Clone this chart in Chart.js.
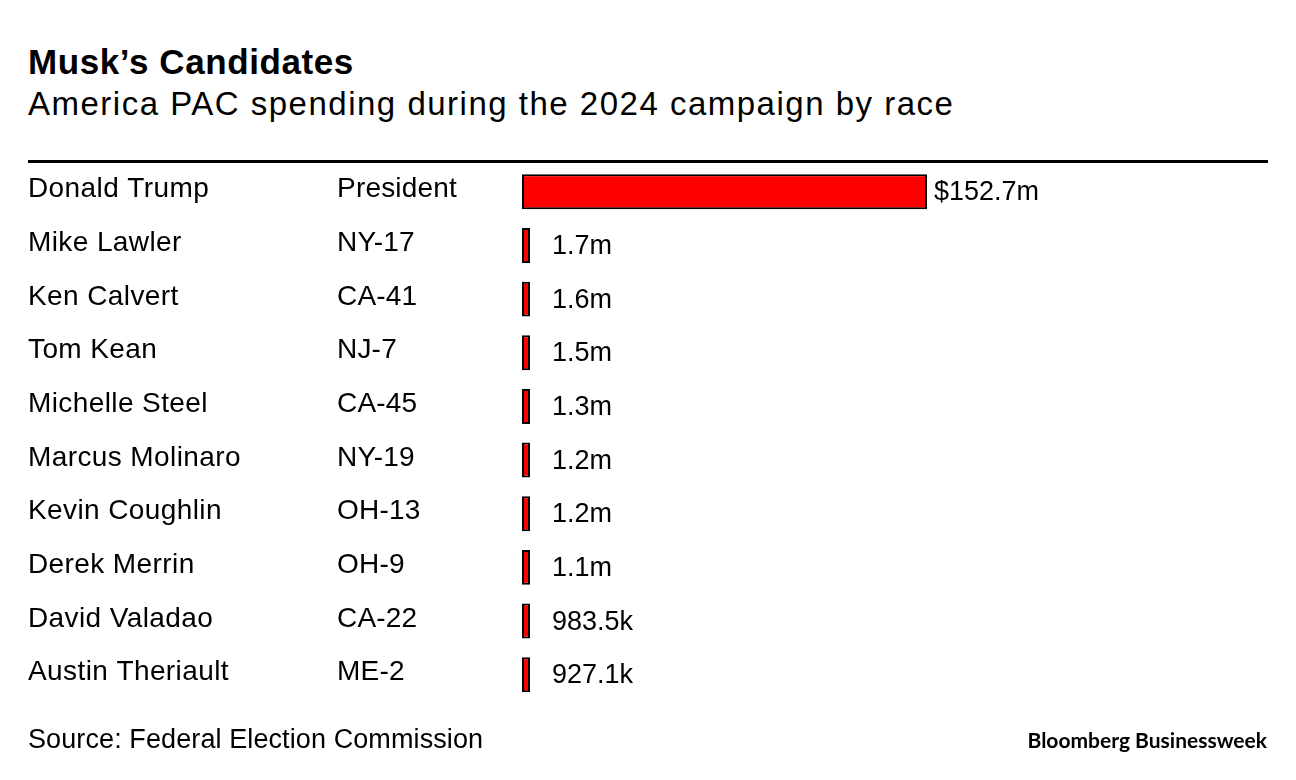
<!DOCTYPE html>
<html>
<head>
<meta charset="utf-8">
<script src="https://cdn.jsdelivr.net/npm/chart.js@4.4.1/dist/chart.umd.min.js"></script>
<style>
html, body { margin: 0; padding: 0; background: #fff; width: 1296px; height: 780px; overflow: hidden; }
body { font-family: "Liberation Sans", Arial, Helvetica, sans-serif; color: #000; position: relative; }
.t { position: absolute; white-space: nowrap; color: #000; }
#title { left: 28px; top: 44px; font-size: 35px; line-height: 35px; font-weight: bold; letter-spacing: 0.6px; }
#subtitle { left: 28px; top: 87px; font-size: 33px; line-height: 33px; letter-spacing: 1.5px; }
#source { left: 28px; top: 726px; font-size: 27px; line-height: 27px; letter-spacing: 0.1px; }
#brand { right: 29px; top: 729px; font-family: Lato, "Open Sans", sans-serif; font-weight: 700; font-size: 21px; line-height: 21px; }
#rule { position: absolute; left: 28px; top: 160px; width: 1240px; height: 2.5px; background: #000; }
canvas { position: absolute; left: 0; top: 0; }
</style>
</head>
<body>
<div class="t" id="title">Musk’s Candidates</div>
<div class="t" id="subtitle">America PAC spending during the 2024 campaign by race</div>
<div id="rule"></div>
<canvas id="c" width="1296" height="780"></canvas>
<div class="t" id="source">Source: Federal Election Commission</div>
<div class="t" id="brand">Bloomberg Businessweek</div>
<script>
// ---- data ----
const candidates = ["Donald Trump", "Mike Lawler", "Ken Calvert", "Tom Kean", "Michelle Steel",
  "Marcus Molinaro", "Kevin Coughlin", "Derek Merrin", "David Valadao", "Austin Theriault"];
const races = ["President", "NY-17", "CA-41", "NJ-7", "CA-45", "NY-19", "OH-13", "OH-9", "CA-22", "ME-2"];
const spendingMillions = [152.7, 1.7, 1.6, 1.5, 1.3, 1.2, 1.2, 1.1, 0.9835, 0.9271];
const valueLabels = ["$152.7m", "1.7m", "1.6m", "1.5m", "1.3m", "1.2m", "1.2m", "1.1m", "983.5k", "927.1k"];

const FONT = '"Liberation Sans", Arial, Helvetica, sans-serif';

const textPlugin = {
  id: 'rowText',
  afterDatasetsDraw(chart) {
    const ctx = chart.ctx;
    const yScale = chart.scales.y;
    const meta = chart.getDatasetMeta(0);
    ctx.save();
    ctx.fillStyle = '#000';
    ctx.textBaseline = 'alphabetic';
    ctx.textAlign = 'left';
    candidates.forEach((name, i) => {
      const yc = yScale.getPixelForValue(i);
      ctx.font = '28px ' + FONT;
      if ('letterSpacing' in ctx) ctx.letterSpacing = '0.4px';
      ctx.fillText(name, 28, yc + 5.5);
      if ('letterSpacing' in ctx) ctx.letterSpacing = '0.2px';
      ctx.fillText(races[i], 337, yc + 5.5);
      const bar = meta.data[i];
      const xEnd = Math.max(bar.x, chart.chartArea.left + 23);
      ctx.font = '27px ' + FONT;
      if ('letterSpacing' in ctx) ctx.letterSpacing = '0px';
      ctx.fillText(valueLabels[i], xEnd + 7, yc + 8.5);
    });
    ctx.restore();
  }
};

new Chart(document.getElementById('c'), {
  type: 'bar',
  data: {
    labels: candidates,
    datasets: [{
      data: spendingMillions,
      backgroundColor: '#ff0000',
      borderColor: '#000000',
      borderWidth: 2,
      borderSkipped: false,
      minBarLength: 8,
      barPercentage: 0.652,
      categoryPercentage: 1.0
    }]
  },
  options: {
    indexAxis: 'y',
    responsive: false,
    animation: false,
    devicePixelRatio: 1,
    layout: { padding: { left: 522, right: 369, top: 165, bottom: 78.5 } },
    scales: {
      x: { display: false, min: 0, max: Math.max(...spendingMillions) },
      y: { display: false }
    },
    plugins: { legend: { display: false }, tooltip: { enabled: false } }
  },
  plugins: [textPlugin]
});
</script>
</body>
</html>
